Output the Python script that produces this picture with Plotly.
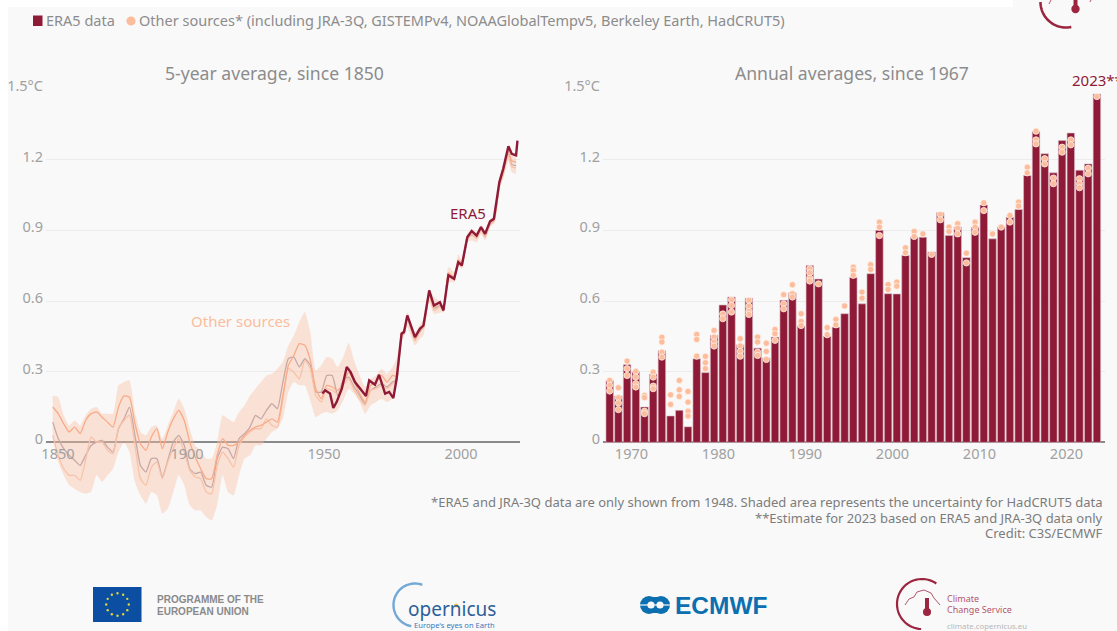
import math
import plotly.graph_objects as go

W, H = 1117, 631
FONT = "Noto Sans"
RED = "#8e1a38"
PEACH = "#fcbd9c"
GREY = "#8c8c8c"

# ---- 5-year average panel -------------------------------------------------
other_years = [1851, 1853, 1855, 1857, 1859, 1861, 1863, 1865, 1867, 1869, 1871, 1873, 1875, 1877, 1879, 1881,
               1883, 1885, 1887, 1889, 1891, 1893, 1895, 1897, 1899, 1901, 1903, 1905, 1907, 1909, 1911, 1913,
               1915, 1917, 1919, 1921, 1923, 1925, 1927, 1929, 1931, 1933, 1935, 1937, 1939, 1941,
               1943, 1945, 1947, 1949, 1951, 1953, 1955, 1957, 1959, 1961, 1963, 1965, 1967, 1969, 1971, 1973, 1975,
               1976.5, 1978.3, 1979.2, 1980.4, 1983.2, 1985.0, 1986.3, 1988.4, 1990.1, 1992.3, 1993.6, 1995.4,
               1997.5, 1999.0, 2000.3, 2002.3, 2003.9, 2005.7, 2007.3, 2008.8, 2010.6, 2012.0, 2014.0, 2015.4,
               2017.3, 2018.5, 2020.1]

hadcrut_upper = [.199, .192, .115, .072, .093, .072, .115, .143, .150, .122, .122, .122, .242, .256, .263, .129,
                 .044, .030, .065, .072, .016, .072, .129, .185, .143, .058, -.013, -.034, -.069, -.069, .001, .115,
                 .100, .086, .129, .157, .199, .228, .256, .284, .291, .313, .341, .412, .454, .511,
                 .553, .468, .305, .327, .362, .355, .320, .362, .423, .348, .284, .235, .270, .284, .313, .291, .320,
                 .355, .468, .489, .553, .468, .500, .525, .652, .617, .600, .581, .744,
                 .723, .800, .772, .885, .907, .892, .924, .900, .946, .956, 1.112, 1.175,
                 1.253, 1.221, 1.215]

hadcrut_lower = [.016, -.083, -.140, -.182, -.197, -.211, -.218, -.211, -.140, -.168, -.140, -.112, -.041, .001, -.041, -.168,
                 -.225, -.260, -.211, -.225, -.303, -.281, -.211, -.140, -.182, -.267, -.289, -.289, -.317, -.331, -.267, -.140,
                 -.211, -.225, -.140, -.069, -.055, -.013, -.013, .016, .044, .058, .100, .214, .256, .242,
                 .242, .178, .107, .122, .129, .122, .136, .178, .228, .207, .171, .122, .157, .171, .185, .171, .185,
                 .256, .426, .450, .489, .412, .440, .454, .595, .546, .550, .553, .680,
                 .680, .751, .737, .850, .857, .850, .885, .857, .914, .928, 1.076, 1.119,
                 1.197, 1.147, 1.140]

source_a = [.150, .122, .079, .044, .065, .037, .093, .122, .129, .107, .086, .065, .150, .197, .192, .079,
            -.006, -.034, .023, .058, -.027, .044, .100, .136, .093, .001, -.062, -.112, -.154, -.154, -.055, .016,
            -.013, -.013, .001, .030, .051, .065, .072, .086, .100, .086, .199, .327, .369, .419,
            .412, .348, .228, .185, .242, .235, .221, .249, .298, .256, .207, .171, .242, .256, .284, .256, .284,
            .280, .465, .475, .535, .440, .485, .500, .635, .575, .595, .565, .720,
            .700, .775, .760, .875, .895, .875, .910, .885, .935, .945, 1.100, 1.150,
            1.235, 1.195, 1.190]

source_b = [.086, .016, -.027, -.055, -.076, -.098, -.055, -.013, .001, .008, -.020, -.041, .058, .100, .150, .030,
            -.098, -.126, -.069, -.069, -.147, -.076, .001, .030, -.013, -.112, -.133, -.126, -.182, -.190, -.069, -.020,
            -.027, -.069, .016, .037, .065, .115, .100, .136, .164, .143, .256, .355, .362, .320,
            .355, .327, .214, .214, .284, .284, .199, .263, .277, .235, .199, .164, .221, .235, .249, .235, .256,
            .265, .455, .460, .525, .435, .470, .490, .625, .570, .580, .565, .710,
            .695, .765, .750, .865, .880, .870, .905, .875, .925, .940, 1.090, 1.145,
            1.225, 1.180, 1.175]

source_c = [.030, -.055, -.112, -.140, -.140, -.161, -.076, .023, .001, .001, -.034, -.048, .058, .093, .115, -.013,
            -.154, -.182, -.105, -.083, -.154, -.083, -.027, .016, -.041, -.119, -.147, -.154, -.211, -.218, -.098, -.041,
            -.069, -.105, -.013, .023, .044, .058, .058, .100, .072, .065, .185, .313, .298, .270,
            .348, .313, .199, .171, .228, .221, .207, .242, .270, .221, .185, .157, .221, .228, .242, .228, .249,
            .260, .450, .465, .530, .430, .475, .485, .630, .560, .575, .555, .700,
            .690, .760, .745, .860, .885, .865, .900, .870, .930, .935, 1.085, 1.135,
            1.220, 1.170, 1.165]

era5_years = [1949.4, 1950.4, 1952.2, 1953.4, 1954.6, 1956.5, 1958.3, 1959.7, 1961.3, 1963.7, 1965.3, 1966.5,
              1968.6, 1970.1, 1972.3, 1973.8, 1975.3, 1976.5, 1978.3, 1979.2, 1980.4, 1983.2, 1985.0, 1986.3,
              1988.4, 1990.1, 1992.3, 1993.6, 1995.4, 1997.5, 1999.0, 2000.3, 2002.3, 2003.9, 2005.7, 2007.3,
              2008.8, 2010.6, 2012.0, 2014.0, 2015.4, 2017.3, 2018.5, 2020.1, 2020.6]
era5_5yr = [.207, .221, .207, .146, .171, .228, .320, .298, .256, .221, .197, .263,
            .245, .287, .207, .214, .188, .270, .461, .468, .539, .447, .482, .496,
            .645, .581, .595, .560, .709, .694, .765, .751, .871, .897, .878, .914,
            .885, .938, .949, 1.105, 1.161, 1.257, 1.225, 1.218, 1.281]

# ---- Annual panel ---------------------------------------------------------
bar_years = list(range(1967, 2024))
era5_annual = [.263, .197, .330, .300, .150, .289, .389, .112, .136, .066, .355, .296, .454, .583, .617, .414,
               .612, .400, .358, .447, .603, .635, .494, .751, .693, .450, .489, .546, .700, .588, .716, .900,
               .631, .630, .793, .871, .871, .808, .975, .878, .914, .784, .914, 1.008, .864, .914, .956,
               .989, 1.133, 1.320, 1.225, 1.144, 1.281, 1.313, 1.155, 1.182, 1.479]
other_annual = [
    [.263, .242, .218], [.232, .190, .167, .139], [.345, .313, .284], [.301, .277, .249, .235],
    [.199, .190, .132, .122], [.298, .277, .239, .228], [.446, .426, .383, .362], [.202, .161],
    [.263, .223, .195], [.216, .171, .132, .112], [.458, .437, .366], [.365, .338, .313],
    [.475, .447, .426, .409], [.545, .525], [.605, .581, .553], [.440, .409, .386, .366],
    [.603, .578, .556, .543], [.447, .426, .383, .369], [.421, .386, .352], [.479, .461, .433],
    [.627, .588, .567], [.669, .631, .617], [.546, .513, .496], [.737, .720, .697, .685],
    [.673], [.487, .457], [.522, .499], [.579], [.744, .730, .709], [.638, .612], [.754, .734],
    [.935, .914, .878], [.670, .649], [.680, .663], [.826, .805], [.895, .874], [.885], [.798],
    [.967, .945], [.914, .895], [.928, .909, .885], [.803, .762], [.935, .914, .892], [1.017, .984],
    [.885], [.914], [.963, .935], [1.020, 1.003], [1.168, 1.144], [1.321, 1.284, 1.267], [1.204, 1.182],
    [1.122, 1.098], [1.253, 1.232], [1.284, 1.263], [1.119, 1.098, 1.081], [1.164, 1.140], [1.468],
]

y_ticks = [0, .3, .6, .9, 1.2, 1.5]
y_labels = ["0", "0.3", "0.6", "0.9", "1.2", "1.5°C"]
left_tick_labels = ["1850", "1900", "1950", "2000"]
left_tick_pos = [1852.9, 1900, 1950, 2000]
right_tick_labels = ["1970", "1980", "1990", "2000", "2010", "2020"]
right_tick_pos = [1969.5, 1979.5, 1989.5, 1999.5, 2009.5, 2019.5]

legend_items = ["ERA5 data", "Other sources* (including JRA-3Q, GISTEMPv4, NOAAGlobalTempv5, Berkeley Earth, HadCRUT5)"]
titles = ["5-year average, since 1850", "Annual averages, since 1967"]
notes = ["*ERA5 and JRA-3Q data are only shown from 1948. Shaded area represents the uncertainty for HadCRUT5 data",
         "**Estimate for 2023 based on ERA5 and JRA-3Q data only",
         "Credit: C3S/ECMWF"]

dot_x = [yr for yr, vals in zip(bar_years, other_annual) for _ in vals]
dot_y = [v for vals in other_annual for v in vals]


def px(x):
    return x / W


def py(y):
    return 1 - y / H


fig = go.Figure()
fig.add_trace(go.Scatter(x=other_years, y=hadcrut_upper, mode="lines", line=dict(width=0, shape="spline", smoothing=0.5),
                         showlegend=False, hoverinfo="skip", xaxis="x", yaxis="y"))
fig.add_trace(go.Scatter(x=other_years, y=hadcrut_lower, mode="lines", line=dict(width=0, shape="spline", smoothing=0.5),
                         fill="tonexty", fillcolor="rgba(251,190,160,0.40)", showlegend=False, hoverinfo="skip",
                         xaxis="x", yaxis="y"))
for vals, col in ((source_b, "#c8a8a6"), (source_c, "#f9c2a8"), (source_a, "#f8ab87")):
    fig.add_trace(go.Scatter(x=other_years, y=vals, mode="lines", line=dict(color=col, width=1.3, shape="spline", smoothing=0.5),
                             showlegend=False, xaxis="x", yaxis="y"))
fig.add_trace(go.Scatter(x=era5_years, y=era5_5yr, mode="lines", line=dict(color=RED, width=2.4), showlegend=False,
                         name="ERA5", xaxis="x", yaxis="y"))
fig.add_trace(go.Bar(x=bar_years, y=era5_annual, marker=dict(color=RED, line=dict(color="#d8bcc4", width=0.6)),
                     showlegend=False, name="ERA5", xaxis="x2", yaxis="y2"))
fig.add_trace(go.Scatter(x=dot_x, y=dot_y, mode="markers", showlegend=False, name="Other sources",
                         marker=dict(color=PEACH, size=6.3, line=dict(color="rgba(255,245,240,0.9)", width=0.8)),
                         xaxis="x2", yaxis="y2"))

shapes, annots = [], []


def rect(x0, y0, x1, y1, fill, layer="above"):
    shapes.append(dict(type="rect", xref="paper", yref="paper", x0=px(x0), x1=px(x1), y0=py(y0), y1=py(y1),
                       fillcolor=fill, line=dict(width=0), layer=layer))


def circle(cx, cy, r, fill):
    shapes.append(dict(type="circle", xref="paper", yref="paper", x0=px(cx - r), x1=px(cx + r), y0=py(cy - r),
                       y1=py(cy + r), fillcolor=fill, line=dict(width=0), layer="above"))


def polyline(pts, color, width):
    path = "M " + " L ".join(f"{px(x):.5f},{py(y):.5f}" for x, y in pts)
    shapes.append(dict(type="path", xref="paper", yref="paper", path=path, line=dict(color=color, width=width),
                       layer="above"))


def arc(cx, cy, r, a0, a1, color, width):
    n = 40
    pts = []
    for i in range(n + 1):
        a = math.radians(a0 + (a1 - a0) * i / n)
        pts.append((cx + r * math.cos(a), cy - r * math.sin(a)))
    polyline(pts, color, width)


def text(x, y, s, size, color, anchor="left", family=FONT, bold=False):
    annots.append(dict(xref="paper", yref="paper", x=px(x), y=py(y), text=f"<b>{s}</b>" if bold else s, showarrow=False,
                       xanchor=anchor, yanchor="middle", align=anchor, borderpad=0,
                       font=dict(family=family, size=size, color=color)))


# white page margins around the grey panel
rect(0, 0, 8, H, "#ffffff", "below")
rect(0, 0, 1013, 7, "#ffffff", "below")

# legend row
rect(33, 15.5, 42.5, 26, RED)
text(45, 20.5, legend_items[0], 14.5, GREY)
circle(131, 21, 4.6, PEACH)
text(138, 20.5, legend_items[1], 14.5, GREY)

# titles and labels
text(274, 73, titles[0], 17.6, GREY, "center")
text(852, 73, titles[1], 17.6, GREY, "center")
text(190, 321, "Other sources", 15, PEACH)
text(449, 213, "ERA5", 15, RED)
text(1071, 80, "2023**", 15, RED)
for yy, s in zip((502, 518, 533), notes):
    text(1104, yy, s, 13, "#7c7c7c", "right")

# EU programme block
rect(93, 587, 141.5, 622, "#0b4ea2")
for k in range(12):
    a = math.radians(30 * k)
    circle(117.5 + 11.3 * math.cos(a), 604.5 + 11.3 * math.sin(a), 1.2, "#e3d63a")
text(156, 599.5, "PROGRAMME OF THE", 10, "#8a8a8a", family="Liberation Sans", bold=True)
text(156, 611, "EUROPEAN UNION", 10, "#8a8a8a", family="Liberation Sans", bold=True)

# Copernicus block
arc(415, 605, 21.5, 70, 260, "#74a9d6", 2.4)
text(407, 609, "opernicus", 19, "#2d5f9a", family="Noto Sans")
circle(456, 605.5, 2, "#f2c230")
text(496, 625, "Europe's eyes on Earth", 7.6, "#3b78b8", "right")

# ECMWF block
rect(646, 597, 664, 613, "#0b6fb0")
circle(649, 605, 9, "#0b6fb0")
circle(661, 605, 9, "#0b6fb0")
circle(651, 605, 3.6, "#f9f9f9")
circle(660, 605, 3.6, "#f9f9f9")
polyline([(640, 605), (670, 605)], "#f9f9f9", 1.2)
text(674, 605, "ECMWF", 24.5, "#0b6fb0", family="Liberation Sans", bold=True)

# Climate Change Service block
arc(922, 604, 25, 55, 268, "#9c2540", 2.2)
polyline([(905, 605), (909, 599), (914, 597), (917, 592), (924, 590), (931, 593), (934, 598), (940, 605)], "#b4556e", 1)
polyline([(927, 598), (927, 610)], "#9c2540", 4)
circle(927, 612, 4, "#9c2540")
text(946, 598, "Climate", 9, "#b5566e")
text(946, 609, "Change Service", 9, "#b5566e")
text(946, 626, "climate.copernicus.eu", 7.8, "#b8b8b8")

# clipped logo at the top right
arc(1066, 2, 25.5, 180, 282, "#9c2540", 2.6)
polyline([(1075.5, 0), (1075.5, 7)], "#9c2540", 4)
circle(1075.5, 9, 4.2, "#9c2540")
polyline([(1049, 4), (1051, 0)], "#b4556e", 1)
polyline([(1090, 2), (1091, 0)], "#b4556e", 1)

axis_y = dict(range=[-.372, 1.5], domain=[py(530), py(89)], tickvals=y_ticks, ticktext=y_labels, showgrid=True,
              gridcolor="#ececec", gridwidth=1, zeroline=True, zerolinecolor="#8a8a8a", zerolinewidth=1.6, automargin=False,
              showline=False, ticks="", ticklabelstandoff=2, ticklabelshift=-3,
              tickfont=dict(family=FONT, size=14.5, color="#a0a0a0"))
axis_x = dict(anchor="free", position=py(443.6), showgrid=False, zeroline=False, showline=False, ticks="", automargin=False,
              tickangle=0, tickfont=dict(family=FONT, size=14.5, color="#a0a0a0"))

fig.update_layout(
    width=W, height=H, margin=dict(l=0, r=0, t=0, b=0), paper_bgcolor="#f9f9f9", plot_bgcolor="rgba(0,0,0,0)",
    showlegend=False, bargap=0.14, shapes=shapes, annotations=annots,
    xaxis=dict(axis_x, domain=[px(46), px(520)], range=[1848.54, 2021.53], tickvals=left_tick_pos, ticktext=left_tick_labels),
    yaxis=dict(axis_y, anchor="x"),
    xaxis2=dict(axis_x, domain=[px(603), px(1105)], range=[1966.23, 2023.93], tickvals=right_tick_pos, ticktext=right_tick_labels),
    yaxis2=dict(axis_y, anchor="x2"),
)

fig.write_html("out.html", config=dict(displayModeBar=False), post_script="document.body.style.margin='0';")
